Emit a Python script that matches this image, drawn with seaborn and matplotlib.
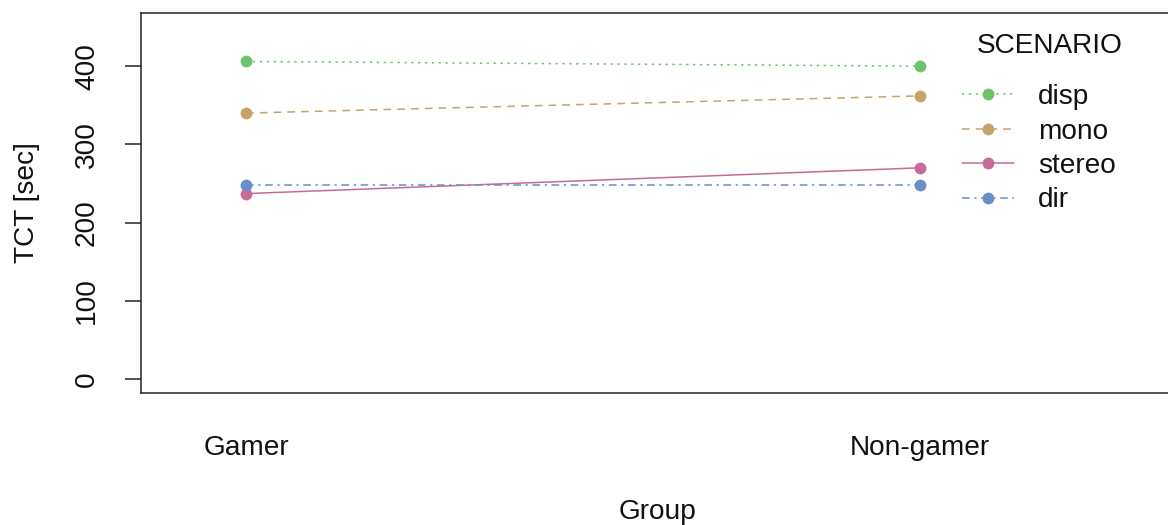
import matplotlib
matplotlib.use("Agg")
import matplotlib.pyplot as plt
import seaborn as sns
import pandas as pd

groups = ["Gamer", "Non-gamer"]
scenarios = ["disp", "mono", "stereo", "dir"]
disp = [406, 400]
mono = [340, 362]
stereo = [237, 270]
dir_ = [248, 248]
yticks = [0, 100, 200, 300, 400]

values = {"disp": disp, "mono": mono, "stereo": stereo, "dir": dir_}
rows = []
for s in scenarios:
    for i, g in enumerate(groups):
        rows.append({"pos": i + 1, "Group": g, "SCENARIO": s, "TCT": values[s][i]})
df = pd.DataFrame(rows)

sns.set_style("white")
plt.rcParams["font.family"] = ["Liberation Sans", "DejaVu Sans"]
plt.rcParams["text.color"] = "#111111"
plt.rcParams["axes.labelcolor"] = "#111111"
plt.rcParams["xtick.color"] = "#111111"
plt.rcParams["ytick.color"] = "#111111"
FS = 20.2

palette = {"disp": "#6cc46a", "mono": "#c4a46b", "stereo": "#c66a9b", "dir": "#6b8dc8"}
dashes = {"disp": (1.5, 3), "mono": (5, 4), "stereo": "", "dir": (5, 3, 1.5, 3)}

fig = plt.figure(figsize=(11.68, 5.25), dpi=100)
W, H = 1168, 525
left, right, top, bottom = 141, 1175, 13, 393
ax = fig.add_axes([left / W, (H - bottom) / H, (right - left) / W, (bottom - top) / H])

sns.lineplot(data=df, x="pos", y="TCT", hue="SCENARIO", style="SCENARIO",
             hue_order=scenarios, style_order=scenarios, palette=palette,
             dashes=dashes, markers={s: "o" for s in scenarios},
             markersize=8.5, markeredgewidth=0, linewidth=1.1, ax=ax)

ax.set_xlim(0.844, 2.378)
ax.set_ylim(-18, 468)
ax.set_xticks([1, 2])
ax.set_xticklabels(groups, fontsize=FS)
ax.set_yticks(yticks)
ax.set_yticklabels([str(t) for t in yticks], fontsize=FS, rotation=90, va="center")
ax.tick_params(axis="x", length=0, pad=30)
ax.tick_params(axis="y", length=11.5, width=1.1, pad=18, color="#222222", left=True)
for sp in ax.spines.values():
    sp.set_color("#222222")
    sp.set_linewidth(1.1)

ax.set_xlabel("Group", fontsize=FS)
ax.set_ylabel("TCT [sec]", fontsize=FS)
ax.xaxis.set_label_coords((658 - left) / (right - left), -(512 - bottom) / (bottom - top))
ax.xaxis.label.set_va("center")
ax.yaxis.set_label_coords(-(left - 27) / (right - left), 0.5)
ax.yaxis.label.set_va("center")

handles, labels = ax.get_legend_handles_labels()
leg = ax.legend(handles, labels, fontsize=FS,
                frameon=False, loc="upper left",
                bbox_to_anchor=(928 / W, (H + 1.5 - 51.5) / H), bbox_transform=fig.transFigure,
                handlelength=1.85, handletextpad=0.85, labelspacing=0.3, borderpad=1.22,
                borderaxespad=0)
fig.text(1050 / W, (H - 46) / H, "SCENARIO", fontsize=FS, ha="center", va="center")

fig.savefig("out.png", dpi=100)
